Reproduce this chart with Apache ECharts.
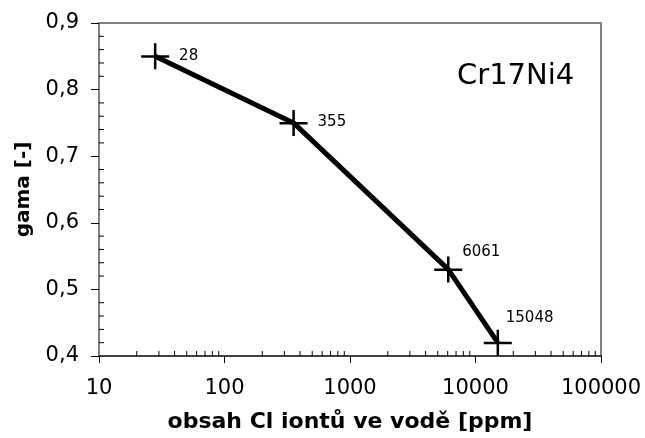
<!DOCTYPE html>
<html>
<head>
<meta charset="utf-8">
<script src="https://cdn.jsdelivr.net/npm/echarts@6/dist/echarts.min.js"></script>
<style>html,body{margin:0;padding:0;background:#fff}#c{width:645px;height:438px}</style>
</head>
<body>
<div id="c"></div>
<script>
// ---- data ----
const chlorideValues = [28, 355, 6061, 15048];
const gamaValues = [0.85, 0.75, 0.53, 0.42];
const pointLabels = ['28', '355', '6061', '15048'];
const xMajorTicks = [10, 100, 1000, 10000, 100000];
const xMinorTicks = [20, 30, 40, 50, 60, 70, 80, 90,
  200, 300, 400, 500, 600, 700, 800, 900,
  2000, 3000, 4000, 5000, 6000, 7000, 8000, 9000,
  20000, 30000, 40000, 50000, 60000, 70000, 80000, 90000];
const yMinorTicks = [0.42, 0.44, 0.46, 0.48, 0.52, 0.54, 0.56, 0.58,
  0.62, 0.64, 0.66, 0.68, 0.72, 0.74, 0.76, 0.78,
  0.82, 0.84, 0.86, 0.88];
const seriesTitle = 'Cr17Ni4';
const xAxisTitle = 'obsah Cl iontů ve vodě [ppm]';
const yAxisTitle = 'gama [-]';

// ---- label placement (style, not data) ----
const labelOffsets = [[0, 0], [0, -1], [-10, -17], [-16, -25]];

const FONT = 'DejaVu Sans';
const chart = echarts.init(document.getElementById('c'), null, {renderer: 'canvas'});

const lineData = chlorideValues.map((x, i) => ({
  value: [x, gamaValues[i]],
  label: {show: true, formatter: pointLabels[i], position: 'right', distance: 10, offset: labelOffsets[i]}
}));

const plusPath = 'path://M0,12L28,12L28,14.5L0,14.5Z M12.8,0L15.3,0L15.3,26L12.8,26Z';

option = {
  backgroundColor: '#fff',
  animation: false,
  title: {
    text: seriesTitle, left: 452, top: 57,
    textStyle: {fontFamily: FONT, fontSize: 29, fontWeight: 'normal', color: '#000'}
  },
  grid: {left: 99, right: 44, top: 23, bottom: 78, show: true, borderColor: '#808080', borderWidth: 2, backgroundColor: 'transparent'},
  xAxis: {
    type: 'log', logBase: 10, min: 10, max: 100000,
    name: xAxisTitle, nameLocation: 'middle', nameGap: 55,
    nameTextStyle: {fontFamily: FONT, fontSize: 22, fontWeight: 'bold', color: '#000'},
    axisLine: {show: true, lineStyle: {color: '#404040', width: 2}},
    axisTick: {show: true, inside: false, length: 7, lineStyle: {color: '#000', width: 1}},
    minorTick: {show: false},
    splitLine: {show: false},
    axisLabel: {margin: 22, fontFamily: FONT, fontSize: 21, color: '#000', formatter: v => String(v)}
  },
  yAxis: {
    type: 'value', min: 0.4, max: 0.9, interval: 0.1,
    name: yAxisTitle, nameLocation: 'middle', nameGap: 65, nameRotate: 90,
    nameTextStyle: {fontFamily: FONT, fontSize: 20, fontWeight: 'bold', color: '#000'},
    axisLine: {show: true, lineStyle: {color: '#808080', width: 2}},
    axisTick: {show: true, inside: false, length: 8, lineStyle: {color: '#000', width: 1}},
    splitLine: {show: false},
    axisLabel: {margin: 20, fontFamily: FONT, fontSize: 21, color: '#000', formatter: v => v.toFixed(1).replace('.', ',')}
  },
  series: [
    {
      type: 'line',
      data: lineData,
      symbol: plusPath,
      symbolSize: [28, 26],
      itemStyle: {color: '#000'},
      lineStyle: {color: '#000', width: 5},
      label: {fontFamily: FONT, fontSize: 15, color: '#000'},
      z: 5
    },
    {
      type: 'custom',
      silent: true,
      clip: false,
      data: xMinorTicks.map(v => [v, 0.4]),
      renderItem: (params, api) => {
        const p = api.coord([api.value(0), api.value(1)]);
        return {type: 'line', shape: {x1: p[0], y1: p[1], x2: p[0], y2: p[1] - 5}, style: {stroke: '#000', lineWidth: 1}};
      },
      z: 3
    },
    {
      type: 'custom',
      silent: true,
      clip: false,
      data: yMinorTicks.map(v => [10, v]),
      renderItem: (params, api) => {
        const p = api.coord([api.value(0), api.value(1)]);
        return {type: 'line', shape: {x1: p[0], y1: p[1], x2: p[0] + 5, y2: p[1]}, style: {stroke: '#000', lineWidth: 1}};
      },
      z: 3
    }
  ]
};
chart.setOption(option);
</script>
</body>
</html>
